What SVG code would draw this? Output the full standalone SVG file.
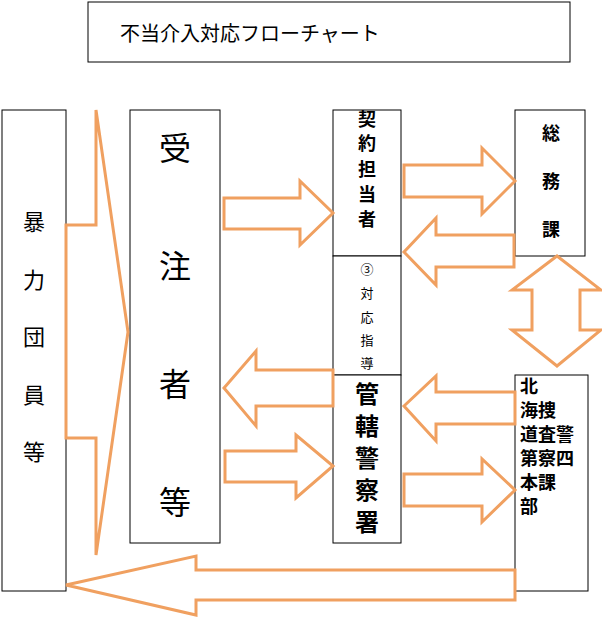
<svg xmlns="http://www.w3.org/2000/svg" width="602" height="619" viewBox="0 0 602 619">
<style>
.b{fill:#fff;stroke:#000;stroke-width:1}
.a{fill:#fff;stroke:#F0A060;stroke-width:3;stroke-linejoin:miter}
text{font-family:"Liberation Serif","Noto Sans CJK JP",serif;fill:#000;text-anchor:middle}
.g{font-family:"Noto Sans CJK JP",sans-serif;text-anchor:start}
</style>
<rect width="602" height="619" fill="#fff"/>
<g id="title"><rect class="b" x="88" y="2" width="482" height="60"/><text x="120" y="41" font-size="20" style="text-anchor:start">不当介入対応フローチャート</text></g>
<g id="n1"><rect class="b" x="2" y="110" width="64" height="481"/>
<text x="34" font-size="22"><tspan x="34" y="230">暴</tspan><tspan x="34" y="288">力</tspan><tspan x="34" y="345">団</tspan><tspan x="34" y="403">員</tspan><tspan x="34" y="460">等</tspan></text></g>
<g id="n2"><rect class="b" x="130" y="110" width="90" height="433"/>
<text font-size="32"><tspan x="175" y="160">受</tspan><tspan x="175" y="278">注</tspan><tspan x="175" y="396">者</tspan><tspan x="175" y="514">等</tspan></text></g>
<g id="n3"><rect class="b" x="333" y="110" width="68" height="146"/>
<text font-size="18" font-weight="bold"><tspan x="367" y="126">契</tspan><tspan x="367" y="150">約</tspan><tspan x="367" y="176">担</tspan><tspan x="367" y="201">当</tspan><tspan x="367" y="226">者</tspan></text></g>
<g id="n4"><rect class="b" x="333" y="256" width="68" height="119"/>
<text font-size="13"><tspan x="367" y="274">③</tspan><tspan x="367" y="298">対</tspan><tspan x="367" y="322">応</tspan><tspan x="367" y="345">指</tspan><tspan x="367" y="368">導</tspan></text></g>
<g id="n5"><rect class="b" x="333" y="375" width="68" height="168"/>
<text font-size="24" font-weight="bold"><tspan x="367" y="403">管</tspan><tspan x="367" y="435">轄</tspan><tspan x="367" y="467">警</tspan><tspan x="367" y="499">察</tspan><tspan x="367" y="531">署</tspan></text></g>
<g id="n6"><rect class="b" x="515" y="110" width="70" height="146"/>
<text font-size="18" font-weight="bold"><tspan x="551" y="140">総</tspan><tspan x="551" y="188">務</tspan><tspan x="551" y="236">課</tspan></text></g>
<g id="n7"><rect class="b" x="515" y="375" width="73" height="216"/>
<text class="g" font-size="18" font-weight="bold"><tspan x="520" y="393">北</tspan><tspan x="520" y="417">海捜</tspan><tspan x="520" y="441">道査警</tspan><tspan x="520" y="465">第察四</tspan><tspan x="520" y="489">本課</tspan><tspan x="520" y="513">部</tspan></text></g>
<g id="connectors">
<polygon class="a" points="66,225 96,225 96,110 128,332 96,555 96,438 66,438"/>
<polygon class="a" points="224,198 300,198 300,181 333,213 300,245 300,229 224,229"/>
<polygon class="a" points="404,165 482,165 482,148 515,181 482,214 482,197 404,197"/>
<polygon class="a" points="514,235 436,235 436,218 404,252 436,285 436,267 514,267"/>
<polygon class="a" points="557,256 601,290 580,290 580,330 601,330 557,366 512,330 532,330 532,290 512,290"/>
<polygon class="a" points="333,370 256,370 256,351 224,388 256,426 256,406 333,406"/>
<polygon class="a" points="225,451 296,451 296,435 333,466 296,498 296,482 225,482"/>
<polygon class="a" points="515,392 436,392 436,376 404,406 436,441 436,424 515,424"/>
<polygon class="a" points="404,474 482,474 482,459 515,490 482,522 482,506 404,506"/>
<polygon class="a" points="515,570 196,570 196,556 66,585 196,615 196,600 515,600"/>
</g>
</svg>
